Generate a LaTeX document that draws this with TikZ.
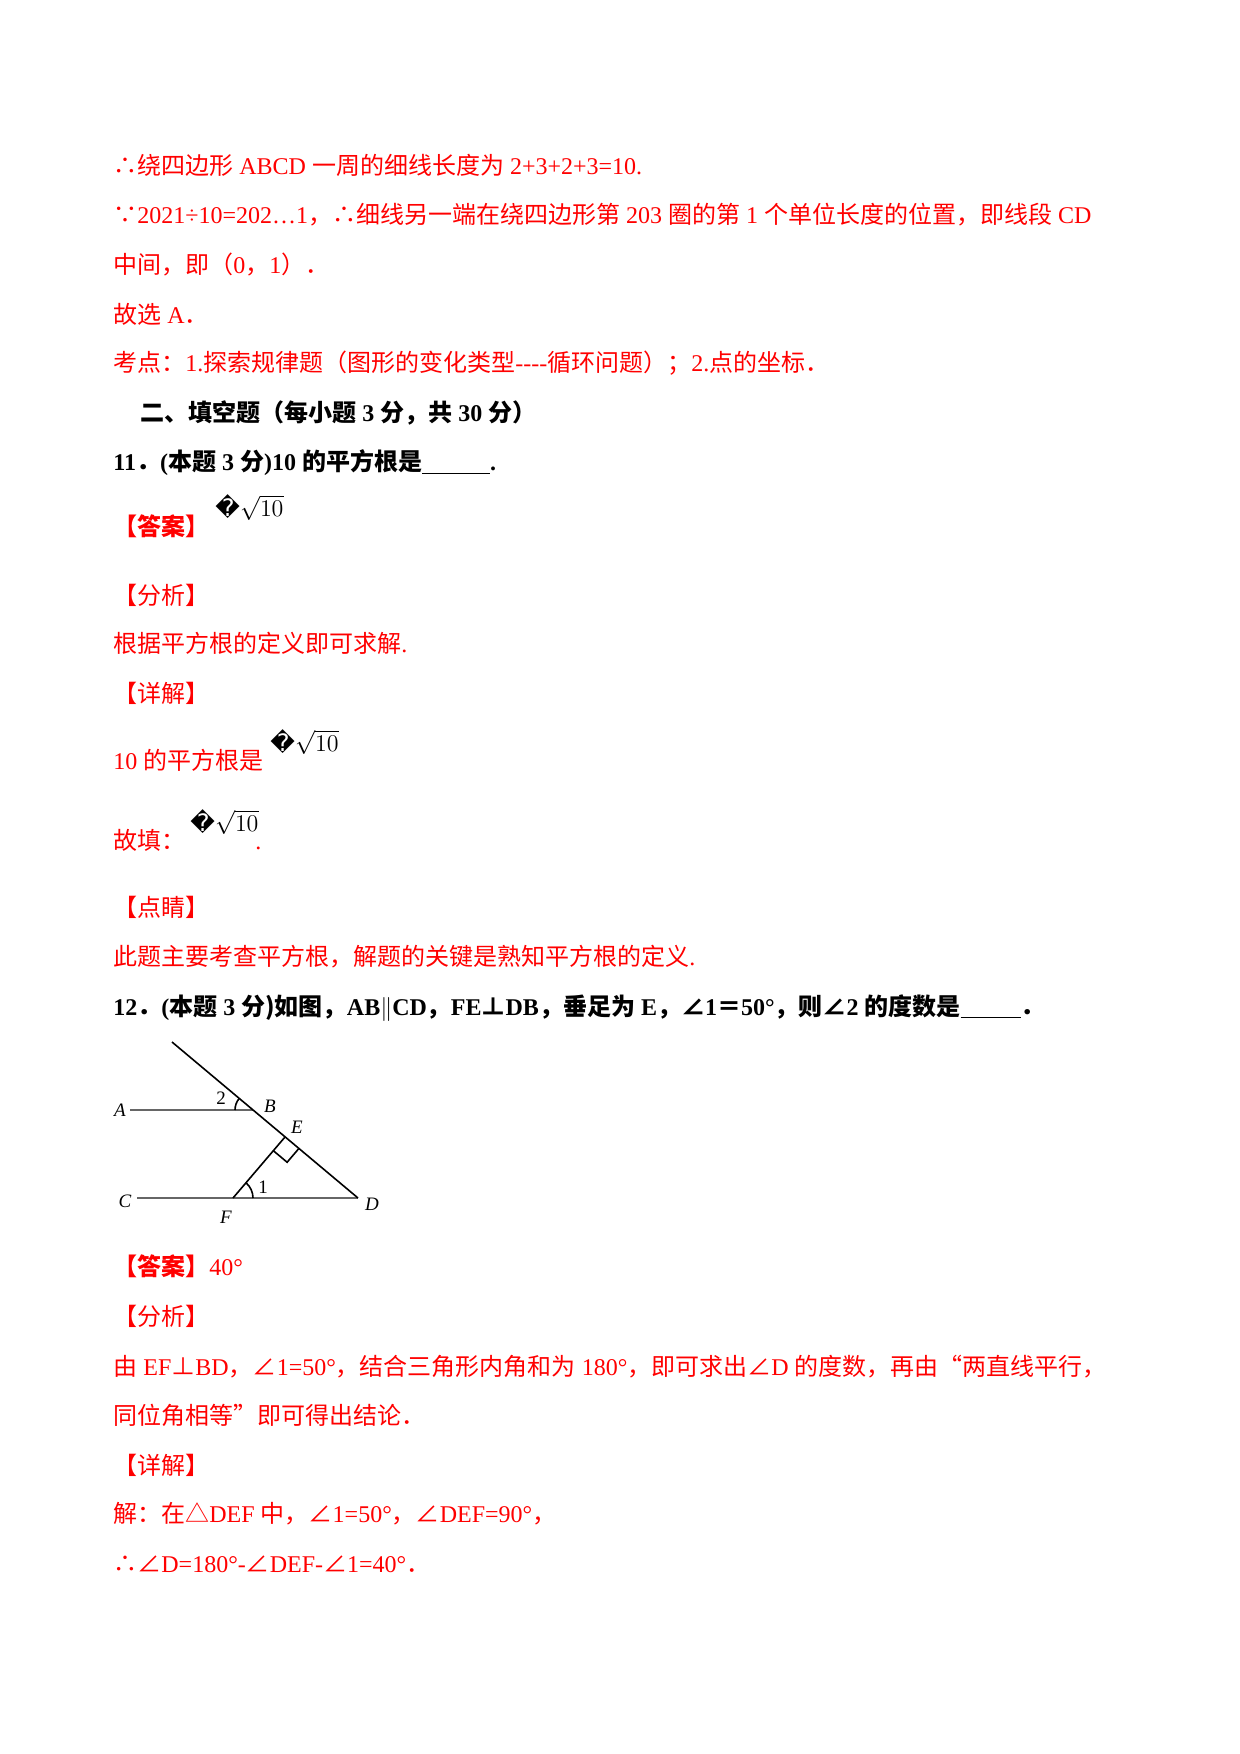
\documentclass[tikz,border=0pt]{standalone}
\usepackage{fontspec}
\usetikzlibrary{calc}
\setmainfont{Liberation Serif}
\newfontfamily\cjk{Noto Sans CJK SC}
\newfontfamily\dvs{DejaVu Sans}
\newcommand{\C}[1]{{\cjk #1}}
\newcommand{\rep}{{\dvs\symbol{"FFFD}}}
\newcommand{\blank}[1]{\rule[-1.5pt]{#1}{0.6pt}}
\begin{document}
\begin{tikzpicture}[x=0.5pt,y=-0.5pt,
  t/.style={anchor=base west,inner sep=0pt,font=\fontsize{12pt}{14pt}\selectfont,text=red},
  tb/.style={t,text=black,font=\fontsize{12pt}{14pt}\selectfont\bfseries},
  gl/.style={gray!80!black,line width=1pt},
  bl/.style={black,line width=0.8pt},
  lab/.style={inner sep=0pt,font=\fontsize{9.5pt}{10pt}\selectfont\itshape}]
\useasboundingbox (0,0) rectangle (1240,1754);
\node[t] (l1) at (113,175) {\C{∴绕四边形} ABCD \C{一周的细线长度为} 2+3+2+3=10.};
\node[t] (l2) at (113,223.5) {\C{∵}2021÷10=202…1\C{，∴细线另一端在绕四边形第} 203 \C{圈的第} 1 \C{个单位长度的位置，即线段} CD};
\node[t] (l3) at (113,274) {\C{中间，即（}0\C{，}1\C{）．}};
\node[t] (l4) at (113,323.6) {\C{故选} A\C{．}};
\node[t] (l5) at (113,372) {\C{考点：}1.\C{探索规律题（图形的变化类型}-{}-{}-{}-\C{循环问题）；}2.\C{点的坐标．}};
\node[tb] (l6) at (140,421.7) {\C{\bfseries 二、填空题（每小题} 3 \C{\bfseries 分，共} 30 \C{\bfseries 分）}};
\node[tb] (l7) at (113,471) {11\C{\bfseries ．}(\C{\bfseries 本题} 3 \C{\bfseries 分})10 \C{\bfseries 的平方根是}\blank{34pt}.};
\node[t] (l8) at (113,535) {\C{\bfseries 【答案】}};
\node[t,text=black] (a8) at (215,529) {\raisebox{6pt}{\rep$\sqrt{10}$}};
\node[t] (l9) at (113,604) {\C{【分析】}};
\node[t] (l10) at (113,652.6) {\C{根据平方根的定义即可求解}.};
\node[t] (l11) at (113,702) {\C{【详解】}};
\node[t] (l12) at (113,769.5) {10 \C{的平方根是}};
\node[t,text=black] (a12) at (270,763.5) {\raisebox{6pt}{\rep$\sqrt{10}$}};
\node[t] (l13) at (113,849.7) {\C{故填：}};
\node[t,text=black] (a13) at (190,843.7) {\raisebox{6pt}{\rep$\sqrt{10}$}};
\node[t] (d13) at (255,849.7) {.};
\node[t] (l14) at (113,916) {\C{【点睛】}};
\node[t] (l15) at (113,965.7) {\C{此题主要考查平方根，解题的关键是熟知平方根的定义}.};
\node[tb] (l16) at (113,1015) {12\C{\bfseries ．}(\C{\bfseries 本题} 3 \C{\bfseries 分)如图，}AB$\|$CD\C{\bfseries ，}FE\C{\bfseries ⊥}DB\C{\bfseries ，垂足为} E\C{\bfseries ，∠}1\C{\bfseries ＝}50°\C{\bfseries ，则∠}2 \C{\bfseries 的度数是}\blank{30pt}\C{\bfseries ．}};
% figure
\coordinate (T) at (172,1042);
\coordinate (A0) at (130,1110);
\coordinate (B) at (253,1110);
\coordinate (E) at (285,1137);
\coordinate (D) at (358,1198);
\coordinate (C0) at (137,1198);
\coordinate (F) at (233,1198);
\coordinate (EF) at ($(E)!9pt!(F)$);
\coordinate (ED) at ($(E)!9pt!(D)$);
\coordinate (EC) at ($(EF)+(ED)-(E)$);
\draw[gl] (A0) -- (B);
\draw[gl] (C0) -- (D);
\draw[bl] (T) -- (D);
\draw[bl] (F) -- (E);
\draw[bl] (EF) -- (EC) -- (ED);
\draw[bl] ($(B)!9pt!(A0)$) arc[start angle=180,end angle=140,radius=9pt];
\draw[bl] ($(F)!10pt!(D)$) arc[start angle=0,end angle=49,radius=10pt];
\node[lab] (nA) at (120,1110) {A};
\node[lab] (nB) at (270,1106) {B};
\node[lab] (nE) at (297,1127) {E};
\node[lab] (nC) at (125,1201) {C};
\node[lab] (nF) at (226,1217) {F};
\node[lab] (nD) at (372,1204) {D};
\node[lab,font=\fontsize{9.5pt}{10pt}\selectfont] (n2) at (221,1098) {2};
\node[lab,font=\fontsize{9.5pt}{10pt}\selectfont] (n1) at (263,1187) {1};
\node[t] (l17) at (113,1275.8) {\C{\bfseries 【答案】}40°};
\node[t] (l18) at (113,1325) {\C{【分析】}};
\node[t] (l19) at (113,1375) {\C{由} EF\C{⊥}BD\C{，∠}1=50°\C{，结合三角形内角和为} 180°\C{，即可求出∠}D \C{的度数，再由“两直线平行，}};
\node[t] (l20) at (113,1424.5) {\C{同位角相等”即可得出结论．}};
\node[t] (l21) at (113,1474) {\C{【详解】}};
\node[t] (l22) at (113,1522.5) {\C{解：在△}DEF \C{中，∠}1=50°\C{，∠}DEF=90°\C{，}};
\node[t] (l23) at (113,1572) {\C{∴∠}D=180°-\C{∠}DEF-\C{∠}1=40°\C{．}};
\end{tikzpicture}
\end{document}
